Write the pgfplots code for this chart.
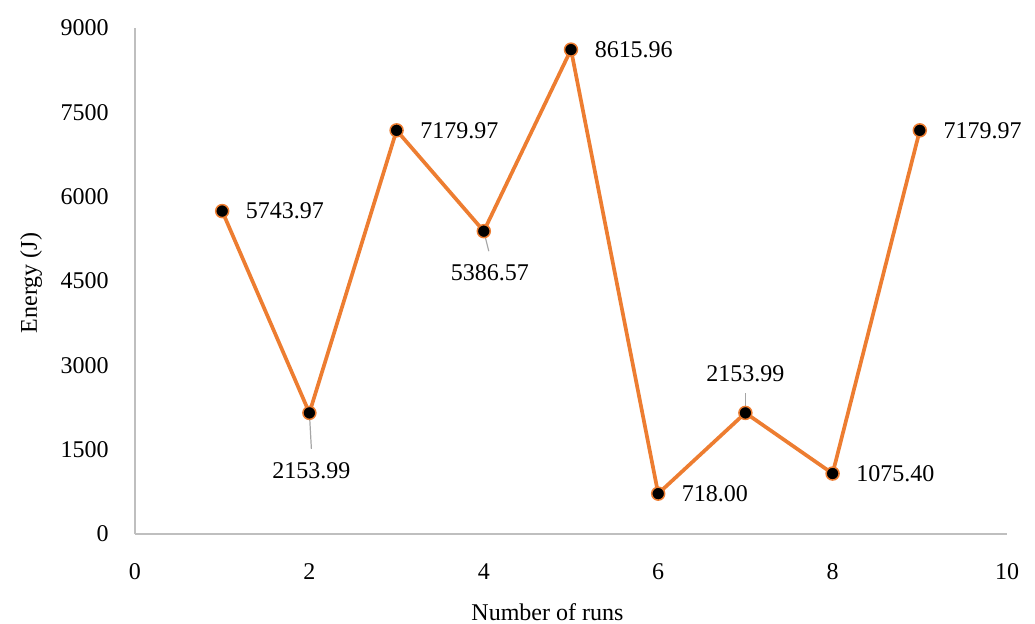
\documentclass[border=0pt]{standalone}
\usepackage{pgfplots}
\pgfplotsset{compat=1.18}
\usepackage{fontspec}
\setmainfont{Liberation Serif}
\definecolor{lineorange}{HTML}{ED7D31}
\definecolor{axgray}{HTML}{BFBFBF}
\definecolor{leadgray}{HTML}{A6A6A6}
\begin{document}
\begin{tikzpicture}
\begin{axis}[
  at={(0,0)}, anchor=south west,
  scale only axis, width=436pt, height=253pt,
  xmin=0, xmax=10, ymin=0, ymax=9000,
  xtick={0,2,...,10}, ytick={0,1500,...,9000},
  axis lines*=left,
  axis line style={draw=axgray, line width=0.75pt},
  major tick length=0pt,
  tick style={draw=none},
  font=\fontsize{12}{14}\selectfont,
  /pgf/number format/assume math mode=true,
  /pgf/number format/1000 sep={},
  yticklabel style={anchor=east, inner sep=0pt, xshift=-13pt},
  xticklabel style={anchor=north, inner sep=0pt, yshift=-14.5pt},
  xlabel={Number of runs}, ylabel={Energy (J)},
  xlabel style={at={(axis description cs:0.473,-0.154)}, anchor=center, inner sep=0pt},
  ylabel style={at={(axis description cs:-0.119,0.496)}, anchor=center, inner sep=0pt},
  clip=false,
]
\addplot[lineorange, line width=1.85pt, no markers, line join=round] table {
x y
1 5743.97
2 2153.99
3 7179.97
4 5386.57
5 8615.96
6 718.00
7 2153.99
8 1075.40
9 7179.97
};
% points labelled to the right
\addplot[only marks, mark=*, mark size=3.25pt,
  mark options={fill=black, draw=lineorange, line width=0.75pt},
  point meta=explicit symbolic, nodes near coords,
  nodes near coords style={anchor=west, inner sep=0pt, xshift=11.5pt, text=black}]
  table[meta=label] {
x y label
1 5743.97 5743.97
3 7179.97 7179.97
5 8615.96 8615.96
6 718.00 718.00
8 1075.40 1075.40
9 7179.97 7179.97
};
% points labelled below
\addplot[only marks, mark=*, mark size=3.25pt,
  mark options={fill=black, draw=lineorange, line width=0.75pt},
  point meta=explicit symbolic, nodes near coords,
  nodes near coords style={anchor=north, inner sep=0pt, xshift=1pt, yshift=-24.5pt, text=black}]
  table[meta=label] {
x y label
2 2153.99 2153.99
};
\addplot[only marks, mark=*, mark size=3.25pt,
  mark options={fill=black, draw=lineorange, line width=0.75pt},
  point meta=explicit symbolic, nodes near coords,
  nodes near coords style={anchor=north, inner sep=0pt, xshift=3pt, yshift=-16.5pt, text=black}]
  table[meta=label] {
x y label
4 5386.57 5386.57
};
% point labelled above
\addplot[only marks, mark=*, mark size=3.25pt,
  mark options={fill=black, draw=lineorange, line width=0.75pt},
  point meta=explicit symbolic, nodes near coords,
  nodes near coords style={anchor=south, inner sep=0pt, yshift=15pt, text=black}]
  table[meta=label] {
x y label
7 2153.99 2153.99
};
\draw[leadgray, line width=0.6pt] (axis cs:2,2153.99) -- ([shift={(1pt,-18pt)}]axis cs:2,2153.99);
\draw[leadgray, line width=0.6pt] (axis cs:4,5386.57) -- ([shift={(2.5pt,-10pt)}]axis cs:4,5386.57);
\draw[leadgray, line width=0.6pt] (axis cs:7,2153.99) -- ([shift={(0pt,10pt)}]axis cs:7,2153.99);
\end{axis}
\pgfresetboundingbox
\path[use as bounding box] (-67.5pt,-44.5pt) rectangle (450pt,267pt);
\end{tikzpicture}
\end{document}
